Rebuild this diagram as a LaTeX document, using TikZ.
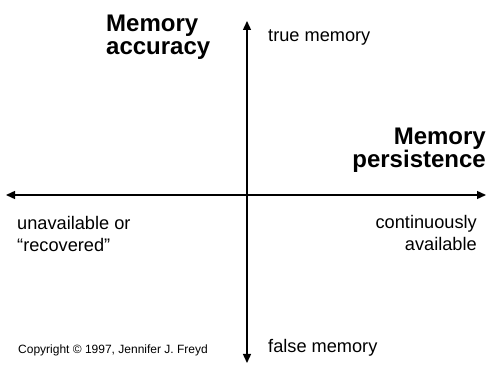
\documentclass[tikz,border=0pt]{standalone}
\usepackage{fontspec}
\setmainfont{Liberation Sans}
\usetikzlibrary{arrows.meta}
\tikzset{
  axis/.style={line width=1.4pt, -{Triangle[length=9pt,width=8pt]}},
  title/.style={inner sep=0pt, font=\fontsize{24}{23}\selectfont\bfseries},
  lbl/.style={inner sep=0pt, font=\fontsize{18.2}{22.5}\selectfont},
  small/.style={inner sep=0pt, font=\fontsize{12}{14}\selectfont}
}
\begin{document}
\begin{tikzpicture}[x=1pt,y=-1pt]
\useasboundingbox (0,0) rectangle (488,366);
\coordinate (top) at (247,21);
\coordinate (bottom) at (247,363);
\coordinate (left) at (6,195);
\coordinate (right) at (486,195);
\coordinate (center) at (247,195);
\draw[axis] (center) -- (top);
\draw[axis] (center) -- (bottom);
\draw[axis] (center) -- (left);
\draw[axis] (center) -- (right);
\node[title, align=left, anchor=base west] (acc) at (106,55) {Memory\\accuracy};
\node[lbl, anchor=base west] (true) at (268,42) {true memory};
\node[title, align=right, anchor=base east] (pers) at (486,168) {Memory\\persistence};
\node[lbl, align=left, anchor=base west] (unav) at (17,252) {unavailable or\\“recovered”};
\node[lbl, align=right, anchor=base east] (cont) at (477,251) {continuously\\available};
\node[small, anchor=base west] (copy) at (18,354) {Copyright © 1997, Jennifer J. Freyd};
\node[lbl, anchor=base west] (false) at (268,353) {false memory};
\end{tikzpicture}
\end{document}
